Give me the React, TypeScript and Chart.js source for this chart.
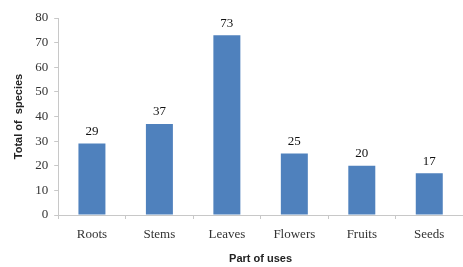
import React, { useEffect, useRef } from "react";
import { Chart, registerables } from "chart.js";

Chart.register(...registerables);

const categories = ["Roots", "Stems", "Leaves", "Flowers", "Fruits", "Seeds"];
const species = [29, 37, 73, 25, 20, 17];
const yTicks = [0, 10, 20, 30, 40, 50, 60, 70, 80];

const valueLabels = {
  id: "valueLabels",
  afterDatasetsDraw(chart: any) {
    const ctx = chart.ctx;
    const meta = chart.getDatasetMeta(0);
    ctx.save();
    ctx.font = "13px 'Liberation Serif', serif";
    ctx.fillStyle = "#111";
    ctx.textAlign = "center";
    ctx.textBaseline = "middle";
    meta.data.forEach((bar: any, i: number) => {
      ctx.fillText(String(species[i]), bar.x, bar.y - 12);
    });
    ctx.restore();
  },
};

export default function App() {
  const ref = useRef<HTMLCanvasElement>(null);
  useEffect(() => {
    const chart = new Chart(ref.current!, {
      type: "bar",
      data: {
        labels: categories,
        datasets: [
          {
            data: species,
            backgroundColor: "#4F81BD",
            borderColor: "#4F81BD",
            barPercentage: 0.4,
            categoryPercentage: 1,
          },
        ],
      },
      options: {
        responsive: false,
        animation: false,
        maintainAspectRatio: false,
        layout: { padding: { top: 18, right: 0, bottom: 0, left: 12 } },
        plugins: { legend: { display: false }, tooltip: { enabled: false } },
        scales: {
          x: {
            afterFit: (scale: any) => {
              scale.height = 52;
            },
            grid: {
              display: true,
              drawOnChartArea: false,
              drawTicks: true,
              tickLength: 4,
              color: "#c8c8c8",
            },
            border: { display: true, color: "#c8c8c8" },
            ticks: {
              color: "#333",
              font: { family: "'Liberation Serif', serif", size: 13 },
              padding: 8,
            },
            title: {
              display: true,
              text: "Part of uses",
              color: "#222",
              font: { family: "'Liberation Sans', sans-serif", size: 11, weight: "bold" },
              padding: { top: 0, bottom: 1 },
            },
          },
          y: {
            min: 0,
            max: 80,
            afterBuildTicks: (axis: any) => {
              axis.ticks = yTicks.map((v) => ({ value: v }));
            },
            grid: {
              display: true,
              drawOnChartArea: false,
              drawTicks: true,
              tickLength: 4,
              color: "#c8c8c8",
            },
            border: { display: true, color: "#c8c8c8" },
            ticks: {
              color: "#333",
              font: { family: "'Liberation Serif', serif", size: 13 },
              padding: 6,
            },
            title: {
              display: true,
              text: "Total of  species",
              color: "#222",
              font: { family: "'Liberation Sans', sans-serif", size: 11, weight: "bold" },
              padding: { top: 0, bottom: 4 },
            },
          },
        },
      },
      plugins: [valueLabels],
    });
    return () => chart.destroy();
  }, []);
  return (
    <div style={{ position: "fixed", left: 0, top: 0, width: 463, height: 267, background: "#fff" }}>
      <canvas ref={ref} width={463} height={267} style={{ width: 463, height: 267 }} />
    </div>
  );
}
